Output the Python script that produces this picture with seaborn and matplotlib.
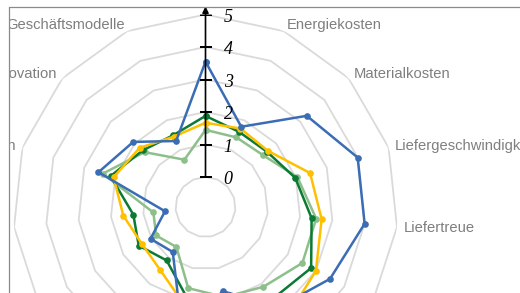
import numpy as np
import pandas as pd
import matplotlib
matplotlib.use('Agg')
import matplotlib.pyplot as plt
import seaborn as sns
from matplotlib.patches import Rectangle
from matplotlib.lines import Line2D

# Kategorien im Uhrzeigersinn, beginnend oben
kategorien = ['Qualität', 'Energiekosten', 'Materialkosten', 'Liefergeschwindigkeit',
              'Liefertreue', 'Flexibilität', 'Service', 'Preis', 'Nachhaltigkeit',
              'Digitalisierung', 'Fachkräfte', 'Regulierung', 'Kooperationen',
              'Innovation', 'Geschäftsmodelle']

serien = ['Gruppe D', 'Gruppe C', 'Gruppe B', 'Gruppe A']
hellgruen = [1.45, 1.42, 1.46, 2.05, 2.5, 2.52, 2.11, 1.91, 1.63, 0.6, 0.83, 0.69, 2.4, 1.6, 0.67]
dunkelgruen = [1.88, 1.61, 1.62, 1.98, 2.36, 2.83, 2.58, 2.0, 1.9, 1.11, 1.45, 1.31, 2.15, 1.68, 1.5]
gelb = [1.67, 1.72, 1.66, 2.46, 2.67, 3.0, 3.31, 2.3, 2.17, 1.46, 1.34, 1.62, 2.05, 1.8, 1.45]
blau = [3.55, 1.78, 3.27, 4.0, 4.0, 3.5, 2.89, 1.73, 2.7, 0.79, 1.03, 0.33, 2.54, 2.07, 1.3]

skala = [0, 1, 2, 3, 4, 5]
farben = ['#8dbf8b', '#0b7a34', '#ffc000', '#3a6db4']

sns.set_theme(style='white')
plt.rcParams['font.family'] = ['Liberation Sans', 'DejaVu Sans']

n = len(kategorien)
winkel = np.linspace(0, 2 * np.pi, n, endpoint=False)
winkel_zu = np.append(winkel, 2 * np.pi)

rows = []
for name, werte in zip(serien, [hellgruen, dunkelgruen, gelb, blau]):
    for w, v in zip(winkel_zu, werte + werte[:1]):
        rows.append({'winkel': w, 'wert': v, 'serie': name})
df = pd.DataFrame(rows)

fig = plt.figure(figsize=(5.2, 2.93), dpi=100)
ax = fig.add_axes([0.025, -0.3635, 0.7404, 1.314], projection='polar')
ax.set_theta_zero_location('N')
ax.set_theta_direction(-1)

# Gitter als Vielecke
for s in skala:
    ax.plot(winkel_zu, [s] * (n + 1), color='#dadada', lw=1.3, zorder=1)

sns.lineplot(data=df, x='winkel', y='wert', hue='serie', hue_order=serien,
             palette=farben, sort=False, estimator=None, marker='o',
             markersize=4.8, markeredgewidth=0, linewidth=1.8,
             legend=False, ax=ax, zorder=3)

ax.set_ylim(-0.923, 5)
ax.set_xticks([])
ax.set_yticks([])
ax.grid(False)
ax.set_xlabel('')
ax.set_ylabel('')
for sp in ax.spines.values():
    sp.set_visible(False)
ax.patch.set_visible(False)

# Kategorienbeschriftung
for w, name in zip(winkel, kategorien):
    sx = np.sin(w)
    if sx > 0.05:
        ha = 'left'
    elif sx < -0.05:
        ha = 'right'
    else:
        ha = 'center'
    va = 'center'
    if abs(sx) <= 0.05:
        va = 'bottom' if np.cos(w) > 0 else 'top'
    ax.text(w, 5.2, name, ha=ha, va=va, fontsize=10.6, color='#7f7f7f')

# eingezeichnete Werteachse mit Pfeil
ax.annotate('', xy=(0, 5.25), xytext=(0, 0), annotation_clip=False,
            arrowprops=dict(arrowstyle='-|>', color='black', lw=1.2,
                            mutation_scale=9, shrinkA=0, shrinkB=0), zorder=5)
ax.plot([0] * len(skala), skala, ls='none', marker='_', markersize=9,
        markeredgewidth=1.2, color='black', zorder=5)
for s in skala:
    ax.annotate(str(s), xy=(0, s), xytext=(13, -2), textcoords='offset points',
                fontsize=13, fontstyle='italic', family='Liberation Serif',
                ha='left', va='center', color='black', annotation_clip=False)

# Diagrammrahmen (links/oben abgeschnitten)
fig.add_artist(Rectangle((0, 0), 9.3 / 520, 1, transform=fig.transFigure,
                         facecolor='white', edgecolor='none', zorder=10))
fig.add_artist(Rectangle((0, 1 - 6.7 / 293), 1, 6.7 / 293, transform=fig.transFigure,
                         facecolor='white', edgecolor='none', zorder=10))
fig.add_artist(Line2D([9.3 / 520, 9.3 / 520], [0, 1 - 6.7 / 293], transform=fig.transFigure,
                      color='#8a8a8a', lw=0.9, zorder=11))
fig.add_artist(Line2D([9.3 / 520, 1], [1 - 6.7 / 293, 1 - 6.7 / 293], transform=fig.transFigure,
                      color='#8a8a8a', lw=0.9, zorder=11))

fig.savefig('out.png', dpi=100)
